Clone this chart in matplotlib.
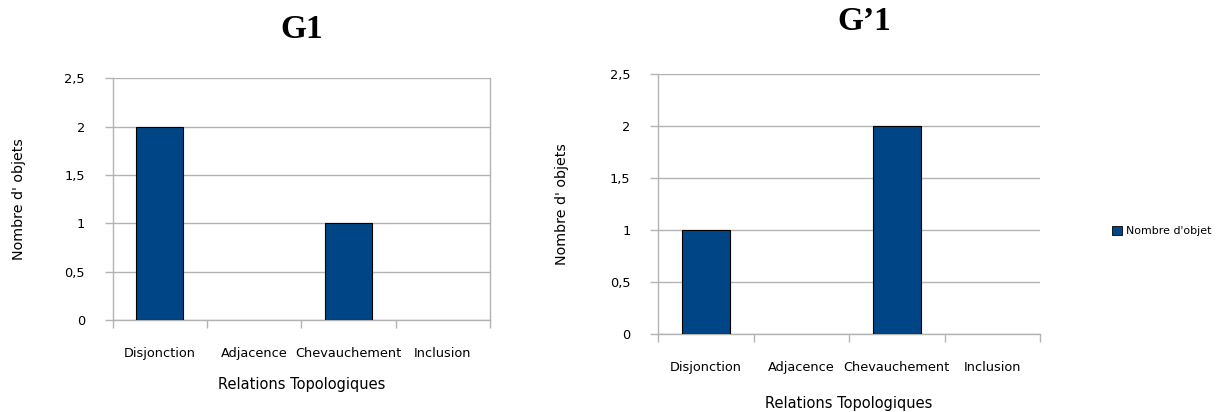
import matplotlib
matplotlib.use("Agg")
import matplotlib.pyplot as plt
from matplotlib.patches import Patch

# Data
categories = ["Disjonction", "Adjacence", "Chevauchement", "Inclusion"]
g1_values = [2, 0, 1, 0]
g1p_values = [1, 0, 2, 0]
yticks = [0, 0.5, 1, 1.5, 2, 2.5]
ytick_labels = ["0", "0,5", "1", "1,5", "2", "2,5"]

BAR = "#004586"
GRID = "#b3b3b3"
W, H = 1223, 412

fig = plt.figure(figsize=(W / 100, H / 100), dpi=100)
plt.rcParams["font.family"] = "DejaVu Sans"


def px_axes(x0, y_top, x1, y_bot):
    return fig.add_axes([x0 / W, 1 - y_bot / H, (x1 - x0) / W, (y_bot - y_top) / H])


def draw(ax, values, right_spine, ylabelpad):
    xs = list(range(len(categories)))
    edges = ["black" if v > 0 else "none" for v in values]
    ax.bar(xs, values, width=0.5, color=BAR, edgecolor=edges, linewidth=0.8, zorder=3)
    ax.set_xlim(-0.5, len(categories) - 0.5)
    ax.set_ylim(0, 2.5)
    ax.set_yticks(yticks)
    ax.set_yticklabels(ytick_labels)
    ax.yaxis.grid(True, color=GRID, linewidth=1.0, zorder=0)
    ax.set_axisbelow(True)
    for s in ["top", "bottom", "left", "right"]:
        ax.spines[s].set_color(GRID)
        ax.spines[s].set_linewidth(1.0)
    ax.spines["top"].set_visible(False)
    ax.spines["right"].set_visible(right_spine)
    ax.set_xticks(xs)
    ax.set_xticklabels(categories, fontsize=9.3)
    ax.set_xticks([x - 0.5 for x in range(len(categories) + 1)], minor=True)
    ax.tick_params(axis="x", which="major", length=0, pad=19.5)
    ax.tick_params(axis="x", which="minor", length=6, width=1.0, color=GRID)
    ax.tick_params(axis="y", length=6, width=1.0, color=GRID, pad=14, labelsize=9.3)
    ax.set_ylabel("Nombre d' objets", fontsize=10.3, labelpad=ylabelpad)


ax1 = px_axes(112.7, 78.3, 490, 320)
draw(ax1, g1_values, right_spine=True, ylabelpad=27.5)
ax1.set_xlabel("Relations Topologiques", fontsize=10.5, labelpad=12.5)

ax2 = px_axes(658.3, 74.3, 1040, 334)
draw(ax2, g1p_values, right_spine=False, ylabelpad=29.5)
ax2.set_xlabel("Relations Topologiques", fontsize=10.5, labelpad=15.5)

fig.text(302 / W, 1 - 30 / H, "G1", fontfamily="Liberation Serif", fontweight="bold",
         fontsize=24, ha="center", va="center")
fig.text(864 / W, 1 - 22 / H, "G\u20191", fontfamily="Liberation Serif", fontweight="bold",
         fontsize=24, ha="center", va="center")

fig.legend(handles=[Patch(facecolor=BAR, edgecolor="black", linewidth=0.6)],
           labels=["Nombre d'objet"], loc="center left",
           bbox_to_anchor=(1107 / W, 1 - 231 / H), frameon=False,
           fontsize=7.9, handlelength=0.85, handleheight=0.85, handletextpad=0.35,
           borderpad=0)

fig.savefig("out.png", dpi=100)
